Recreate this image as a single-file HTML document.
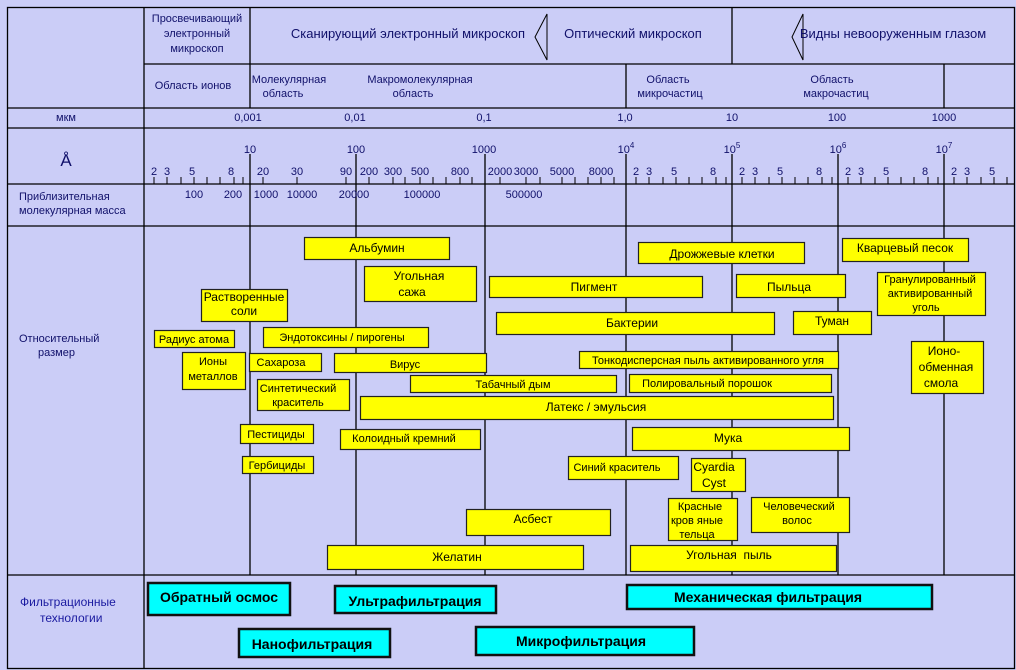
<!DOCTYPE html>
<html><head><meta charset="utf-8"><style>
html,body{margin:0;padding:0;background:#cbcdf7;}
svg{display:block;font-family:"Liberation Sans",Arial,sans-serif;}
.h{fill:#10106a;}
.b text{fill:#000;}
</style></head><body>
<svg width="1016" height="670" viewBox="0 0 1016 670" xmlns="http://www.w3.org/2000/svg">
<rect x="0" y="0" width="1016" height="670" fill="#cbcdf7"/>
<g stroke="#000" stroke-width="1.3" fill="none">
<rect x="7.5" y="7.5" width="1007" height="661"/>
<line x1="144" y1="7" x2="144" y2="669"/>
<line x1="144" y1="64" x2="1015" y2="64"/>
<line x1="7" y1="108" x2="1015" y2="108"/>
<line x1="7" y1="128" x2="1015" y2="128"/>
<line x1="7" y1="184" x2="1015" y2="184"/>
<line x1="7" y1="226" x2="1015" y2="226"/>
<line x1="7" y1="575" x2="1015" y2="575"/>
<line x1="250" y1="7" x2="250" y2="108"/>
<line x1="732" y1="7" x2="732" y2="64"/>
<line x1="626" y1="64" x2="626" y2="108"/>
<line x1="944" y1="64" x2="944" y2="108"/>
<line x1="250" y1="154" x2="250" y2="575"/>
<line x1="356" y1="154" x2="356" y2="575"/>
<line x1="485" y1="154" x2="485" y2="575"/>
<line x1="626" y1="154" x2="626" y2="575"/>
<line x1="732" y1="154" x2="732" y2="575"/>
<line x1="838" y1="154" x2="838" y2="575"/>
<line x1="944" y1="154" x2="944" y2="575"/>
<path stroke-width="1" d="M154 177V184M167 177V184M181 177V184M194 177V184M207 177V184M220 177V184M234 177V184M243 177V184
M263 177V184M297 177V184M346 177V184M369 177V184M393 177V184M405 177V184M420 177V184M433 177V184M446 177V184M460 177V184M472 177V184
M500 177V184M526 177V184M540 177V184M562 177V184M575 177V184M588 177V184M601 177V184M614 177V184
M636 177V184M649 177V184M663 177V184M676 177V184M689 177V184M702 177V184M716 177V184M726 177V184
M742 177V184M755 177V184M769 177V184M782 177V184M795 177V184M808 177V184M822 177V184M832 177V184
M848 177V184M861 177V184M875 177V184M888 177V184M901 177V184M914 177V184M928 177V184M938 177V184
M954 177V184M967 177V184M981 177V184M994 177V184M1007 177V184"/>
</g>
<polygon points="547,14 535,37 547,60" fill="none" stroke="#000"/>
<polygon points="803,14 792,37 803,60" fill="none" stroke="#000"/>
<g class="h" font-size="11" text-anchor="middle">
<text x="197" y="22">Просвечивающий</text><text x="197" y="37">электронный</text><text x="197" y="52">микроскоп</text>
<text x="408" y="38" font-size="13">Сканирующий электронный микроскоп</text>
<text x="633" y="38" font-size="13">Оптический микроскоп</text>
<text x="893" y="38" font-size="13">Видны невооруженным глазом</text>
<text x="193" y="89">Область ионов</text>
<text x="289" y="83">Молекулярная</text><text x="283" y="97">область</text>
<text x="420" y="83">Макромолекулярная</text><text x="413" y="97">область</text>
<text x="668" y="83">Область</text><text x="670" y="97">микрочастиц</text>
<text x="832" y="83">Область</text><text x="836" y="97">макрочастиц</text>
<text x="66" y="121">мкм</text>
<text x="66" y="166" font-size="17">Å</text>
<text x="248" y="121">0,001</text><text x="355" y="121">0,01</text><text x="484" y="121">0,1</text><text x="625" y="121">1,0</text><text x="732" y="121">10</text><text x="837" y="121">100</text><text x="944" y="121">1000</text>
<text x="250" y="153">10</text><text x="356" y="153">100</text><text x="484" y="153">1000</text>
<text x="626" y="153">10<tspan dy="-5" font-size="8">4</tspan></text>
<text x="732" y="153">10<tspan dy="-5" font-size="8">5</tspan></text>
<text x="838" y="153">10<tspan dy="-5" font-size="8">6</tspan></text>
<text x="944" y="153">10<tspan dy="-5" font-size="8">7</tspan></text>
<text x="154" y="175">2</text><text x="167" y="175">3</text><text x="192" y="175">5</text><text x="231" y="175">8</text>
<text x="263" y="175">20</text><text x="297" y="175">30</text>
<text x="346" y="175">90</text><text x="369" y="175">200</text><text x="393" y="175">300</text><text x="420" y="175">500</text><text x="460" y="175">800</text>
<text x="500" y="175">2000</text><text x="526" y="175">3000</text><text x="562" y="175">5000</text><text x="601" y="175">8000</text>
<text x="636" y="175">2</text><text x="649" y="175">3</text><text x="674" y="175">5</text><text x="713" y="175">8</text>
<text x="742" y="175">2</text><text x="755" y="175">3</text><text x="780" y="175">5</text><text x="819" y="175">8</text>
<text x="848" y="175">2</text><text x="861" y="175">3</text><text x="886" y="175">5</text><text x="925" y="175">8</text>
<text x="954" y="175">2</text><text x="967" y="175">3</text><text x="992" y="175">5</text>
<text x="194" y="198">100</text><text x="233" y="198">200</text><text x="266" y="198">1000</text><text x="302" y="198">10000</text><text x="354" y="198">20000</text><text x="422" y="198">100000</text><text x="524" y="198">500000</text>
</g>
<g class="h" font-size="11">
<text x="19" y="200">Приблизительная</text><text x="19" y="214">молекулярная масса</text>
<text x="19" y="342">Относительный</text><text x="38" y="356">размер</text>
<text x="20" y="606" font-size="12" fill="#1a1aa0">Фильтрационные</text><text x="40" y="622" font-size="12" fill="#1a1aa0">технологии</text>
</g>
<g class="b" fill="#ffff00" stroke="#222" stroke-width="1.2">
<rect x="304.5" y="237.5" width="145" height="22"/>
<rect x="364.5" y="266.5" width="112" height="35"/>
<rect x="201.5" y="289.5" width="86" height="32"/>
<rect x="154.5" y="330.5" width="80" height="17"/>
<rect x="263.5" y="327.5" width="165" height="20"/>
<rect x="182.5" y="352.5" width="63" height="37"/>
<rect x="249.5" y="353.5" width="72" height="18"/>
<rect x="334.5" y="353.5" width="152" height="19"/>
<rect x="257.5" y="379.5" width="92" height="31"/>
<rect x="410.5" y="375.5" width="206" height="17"/>
<rect x="360.5" y="396.5" width="473" height="23"/>
<rect x="240.5" y="424.5" width="73" height="19"/>
<rect x="340.5" y="429.5" width="140" height="20"/>
<rect x="242.5" y="456.5" width="71" height="17"/>
<rect x="466.5" y="509.5" width="144" height="26"/>
<rect x="327.5" y="545.5" width="256" height="24"/>
<rect x="638.5" y="242.5" width="166" height="21"/>
<rect x="489.5" y="276.5" width="213" height="21"/>
<rect x="736.5" y="274.5" width="109" height="23"/>
<rect x="842.5" y="238.5" width="126" height="23"/>
<rect x="877.5" y="272.5" width="108" height="43"/>
<rect x="496.5" y="312.5" width="278" height="22"/>
<rect x="793.5" y="311.5" width="78" height="23"/>
<rect x="911.5" y="341.5" width="72" height="52"/>
<rect x="579.5" y="351.5" width="259" height="17"/>
<rect x="629.5" y="374.5" width="202" height="18"/>
<rect x="632.5" y="427.5" width="217" height="23"/>
<rect x="568.5" y="456.5" width="110" height="23"/>
<rect x="691.5" y="458.5" width="54" height="33"/>
<rect x="668.5" y="498.5" width="69" height="42"/>
<rect x="751.5" y="497.5" width="98" height="35"/>
<rect x="630.5" y="545.5" width="206" height="26"/>
</g>
<g font-size="12" fill="#000" text-anchor="middle">
<text x="377" y="252">Альбумин</text>
<text x="419" y="280">Угольная</text><text x="412" y="296">сажа</text>
<text x="244" y="301">Растворенные</text><text x="244" y="315">соли</text>
<text x="194" y="343" font-size="11">Радиус атома</text>
<text x="342" y="341" font-size="11">Эндотоксины / пирогены</text>
<text x="213" y="365" font-size="11">Ионы</text><text x="213" y="380" font-size="11">металлов</text>
<text x="281" y="366" font-size="11">Сахароза</text>
<text x="405" y="368" font-size="11">Вирус</text>
<text x="298" y="392" font-size="11">Синтетический</text><text x="298" y="406" font-size="11">краситель</text>
<text x="513" y="388" font-size="11">Табачный дым</text>
<text x="596" y="411">Латекс / эмульсия</text>
<text x="276" y="438" font-size="11">Пестициды</text>
<text x="404" y="442" font-size="11">Колоидный кремний</text>
<text x="277" y="469" font-size="11">Гербициды</text>
<text x="533" y="523">Асбест</text>
<text x="457" y="561">Желатин</text>
<text x="722" y="258">Дрожжевые клетки</text>
<text x="594" y="291">Пигмент</text>
<text x="789" y="291">Пыльца</text>
<text x="905" y="252">Кварцевый песок</text>
<text x="930" y="283" font-size="11">Гранулированный</text><text x="930" y="297" font-size="11">активированный</text><text x="926" y="311" font-size="11">уголь</text>
<text x="632" y="327">Бактерии</text>
<text x="832" y="325">Туман</text>
<text x="944" y="355">Ионо-</text><text x="946" y="371">обменная</text><text x="941" y="387">смола</text>
<text x="708" y="364" font-size="11">Тонкодисперсная пыль активированного угля</text>
<text x="707" y="387" font-size="11">Полировальный порошок</text>
<text x="728" y="442">Мука</text>
<text x="617" y="471" font-size="11">Синий краситель</text>
<text x="714" y="471">Cyardia</text><text x="714" y="487">Cyst</text>
<text x="700" y="510" font-size="11">Красные</text><text x="697" y="524" font-size="11">кров яные</text><text x="697" y="538" font-size="11">тельца</text>
<text x="799" y="510" font-size="11">Человеческий</text><text x="797" y="524" font-size="11">волос</text>
<text x="729" y="559">Угольная&#160; пыль</text>
</g>
<g fill="#00ffff" stroke="#111" stroke-width="2.5">
<rect x="148" y="583" width="142" height="32"/>
<rect x="335" y="586" width="161" height="27"/>
<rect x="239" y="629" width="151" height="28"/>
<rect x="476" y="627" width="218" height="28"/>
<rect x="627" y="585" width="305" height="24"/>
</g>
<g font-size="14" font-weight="bold" fill="#000" text-anchor="middle">
<text x="219" y="602">Обратный осмос</text>
<text x="415" y="606">Ультрафильтрация</text>
<text x="312" y="649">Нанофильтрация</text>
<text x="581" y="646">Микрофильтрация</text>
<text x="768" y="602">Механическая фильтрация</text>
</g>
</svg>
</body></html>
